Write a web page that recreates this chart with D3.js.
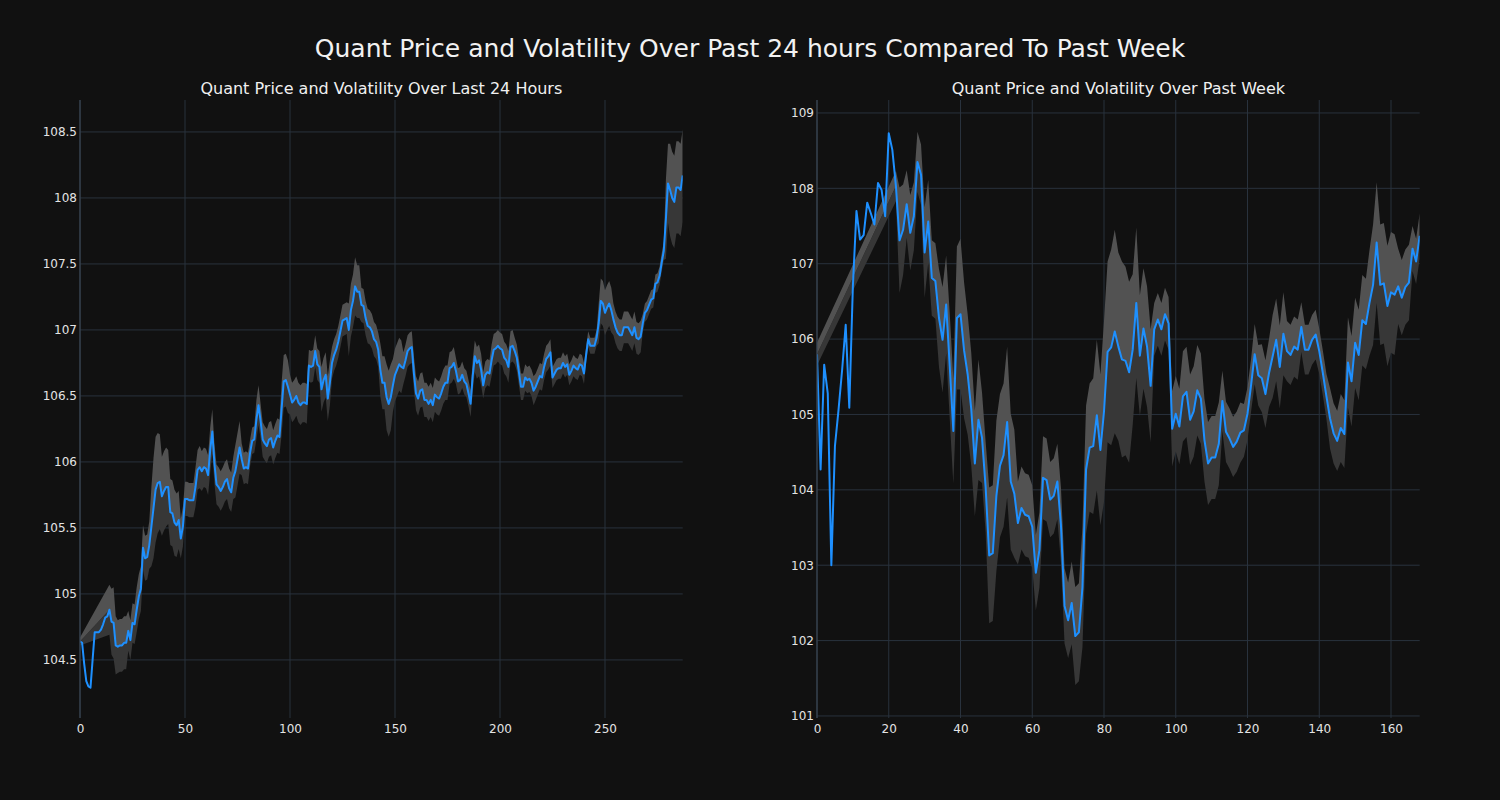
<!DOCTYPE html>
<html>
<head>
<meta charset="utf-8">
<script src="https://cdn.jsdelivr.net/npm/d3@7"></script>
<style>
  html, body { margin: 0; padding: 0; background: #111111; }
  svg { display: block; }
  text { font-family: "DejaVu Sans", sans-serif; }
</style>
</head>
<body>
<svg id="chart" width="1500" height="800"></svg>
<script>
// ---------- DATA ----------
const mainTitle = "Quant Price and Volatility Over Past 24 hours Compared To Past Week";
const dayTitle = "Quant Price and Volatility Over Last 24 Hours";
const weekTitle = "Quant Price and Volatility Over Past Week";

// 24h price (5-minute steps, 288 points)
const dayPrice = [
104.64,104.63,104.47,104.34,104.30,104.29,104.50,104.71,104.71,104.71,
104.73,104.77,104.82,104.83,104.88,104.79,104.78,104.61,104.60,104.61,
104.61,104.63,104.63,104.72,104.65,104.78,104.77,104.88,104.98,105.04,
105.35,105.27,105.28,105.37,105.51,105.65,105.79,105.84,105.85,105.74,
105.78,105.81,105.81,105.62,105.61,105.54,105.52,105.56,105.42,105.51,
105.72,105.72,105.71,105.71,105.71,105.81,105.94,105.96,105.93,105.96,
105.95,105.90,106.09,106.23,105.99,105.83,105.81,105.78,105.81,105.85,
105.87,105.80,105.77,105.88,105.93,106.02,106.11,106.02,105.95,105.96,
105.95,106.07,106.16,106.17,106.32,106.43,106.31,106.17,106.14,106.12,
106.17,106.18,106.11,106.16,106.20,106.19,106.40,106.61,106.62,106.57,
106.51,106.45,106.47,106.50,106.45,106.43,106.45,106.45,106.44,106.73,
106.72,106.73,106.84,106.74,106.72,106.55,106.62,106.66,106.48,106.60,
106.75,106.81,106.85,106.91,106.99,107.07,107.08,107.09,107.00,107.15,
107.22,107.33,107.29,107.29,107.19,107.18,107.09,107.03,107.02,106.99,
106.93,106.91,106.85,106.70,106.60,106.60,106.49,106.44,106.49,106.58,
106.66,106.70,106.74,106.72,106.71,106.77,106.84,106.86,106.87,106.67,
106.52,106.48,106.54,106.55,106.47,106.47,106.44,106.47,106.43,106.51,
106.49,106.48,106.52,106.57,106.60,106.60,106.71,106.72,106.75,106.69,
106.61,106.62,106.66,106.61,106.59,106.52,106.44,106.65,106.80,106.75,
106.77,106.70,106.58,106.66,106.68,106.67,106.77,106.85,106.86,106.88,
106.86,106.85,106.79,106.77,106.72,106.87,106.88,106.84,106.79,106.68,
106.57,106.57,106.64,106.62,106.63,106.60,106.54,106.57,106.61,106.65,
106.64,106.72,106.78,106.80,106.83,106.64,106.67,106.70,106.71,106.71,
106.75,106.72,106.74,106.66,106.69,106.73,106.71,106.70,106.74,106.73,
106.67,106.81,106.93,106.88,106.88,106.88,106.94,107.05,107.22,107.20,
107.13,107.17,107.20,107.15,107.08,107.02,106.98,106.96,106.96,107.02,
107.02,107.02,106.99,106.96,107.02,106.94,106.93,106.95,107.05,107.13,
107.15,107.19,107.23,107.24,107.35,107.36,107.41,107.51,107.60,107.84,
108.11,108.06,108.00,107.97,108.08,108.08,108.06,108.17
];

// 24h rolling volatility (band half-width), null where not yet defined
const dayVol = [
0.03,null,null,null,null,null,null,null,null,null,
null,null,null,null,0.19,0.25,0.27,0.22,0.20,0.20,
0.20,0.20,0.20,0.15,0.15,0.15,0.15,0.17,0.17,0.17,
0.17,0.17,0.17,0.18,0.30,0.38,0.40,0.38,0.36,0.30,
0.30,0.30,0.28,0.25,0.25,0.25,0.24,0.22,0.15,0.15,
0.13,0.13,0.13,0.13,0.13,0.15,0.15,0.16,0.15,0.15,
0.15,0.15,0.17,0.17,0.15,0.15,0.15,0.15,0.15,0.15,
0.15,0.15,0.15,0.16,0.20,0.20,0.20,0.12,0.12,0.12,
0.12,0.10,0.10,0.10,0.15,0.15,0.13,0.13,0.13,0.13,
0.13,0.13,0.13,0.13,0.13,0.13,0.20,0.20,0.20,0.20,
0.15,0.15,0.15,0.15,0.15,0.15,0.15,0.15,0.15,0.12,
0.12,0.12,0.12,0.12,0.12,0.17,0.17,0.17,0.17,0.17,
0.12,0.12,0.12,0.12,0.12,0.12,0.12,0.12,0.20,0.20,
0.20,0.22,0.20,0.20,0.13,0.13,0.13,0.13,0.13,0.13,
0.13,0.13,0.13,0.20,0.20,0.20,0.25,0.25,0.25,0.20,
0.20,0.20,0.20,0.20,0.12,0.12,0.12,0.12,0.12,0.13,
0.13,0.13,0.13,0.13,0.13,0.13,0.13,0.13,0.13,0.13,
0.13,0.13,0.13,0.13,0.13,0.13,0.12,0.12,0.12,0.10,
0.10,0.10,0.10,0.10,0.10,0.10,0.10,0.12,0.12,0.12,
0.12,0.12,0.10,0.10,0.10,0.10,0.12,0.12,0.12,0.12,
0.12,0.12,0.12,0.12,0.12,0.12,0.12,0.10,0.10,0.10,
0.10,0.10,0.10,0.10,0.10,0.10,0.11,0.10,0.10,0.10,
0.10,0.10,0.10,0.10,0.10,0.08,0.08,0.08,0.08,0.08,
0.08,0.08,0.08,0.08,0.08,0.08,0.08,0.08,0.08,0.08,
0.08,0.06,0.06,0.06,0.06,0.06,0.06,0.15,0.17,0.17,
0.17,0.17,0.17,0.17,0.12,0.12,0.12,0.12,0.12,0.12,
0.12,0.12,0.12,0.12,0.12,0.12,0.12,0.12,0.07,0.07,
0.07,0.07,0.07,0.07,0.07,0.07,0.07,0.07,0.07,0.30,
0.30,0.35,0.35,0.35,0.35,0.35,0.35,0.35
];

// week price (hourly, 169 points)
const weekPrice = [
105.80,104.27,105.66,105.28,103.00,104.58,105.06,105.59,106.19,105.09,
106.70,107.70,107.32,107.38,107.81,107.67,107.52,108.07,107.98,107.63,
108.73,108.51,108.03,107.31,107.45,107.79,107.41,107.63,108.35,108.18,
107.15,107.56,106.81,106.77,106.28,105.99,106.46,105.64,104.78,106.28,
106.33,105.85,105.53,105.07,104.35,104.93,104.69,104.04,103.13,103.16,
103.92,104.32,104.46,104.90,104.11,103.95,103.56,103.76,103.67,103.65,
103.51,102.90,103.20,104.16,104.13,103.87,103.92,104.11,103.53,102.46,
102.27,102.50,102.06,102.11,102.71,104.27,104.56,104.58,104.99,104.53,
105.04,105.83,105.89,106.10,105.90,105.73,105.71,105.56,105.86,106.48,
105.78,106.14,105.90,105.38,106.13,106.26,106.13,106.33,106.21,104.81,
105.01,104.84,105.24,105.30,104.93,105.04,105.32,105.21,104.66,104.35,
104.43,104.43,104.61,105.18,104.77,104.68,104.57,104.64,104.76,104.79,
105.01,105.39,105.80,105.52,105.48,105.27,105.55,105.77,105.99,105.63,
106.07,105.84,105.79,105.90,105.86,106.16,105.86,105.86,105.99,106.06,
105.84,105.55,105.24,104.95,104.75,104.65,104.82,104.74,105.69,105.44,
105.95,105.79,106.25,106.20,106.48,106.72,107.28,106.72,106.74,106.44,
106.62,106.59,106.70,106.55,106.69,106.75,107.20,107.03,107.37
];

// week rolling volatility (band half-width), null where not yet defined
const weekVol = [
0.15,null,null,null,null,null,null,null,null,null,
null,null,null,null,null,null,null,null,null,null,
null,null,0.20,0.70,0.60,0.45,0.50,0.45,0.40,0.40,
0.60,0.55,0.50,0.50,0.65,0.70,0.65,0.70,0.70,0.95,
1.00,0.90,0.80,0.75,0.70,0.80,0.60,0.60,0.90,0.90,
1.00,0.95,0.95,1.00,0.90,0.85,0.55,0.55,0.55,0.55,
0.55,0.50,0.50,0.55,0.55,0.50,0.50,0.50,0.50,0.50,
0.50,0.55,0.65,0.65,0.80,0.85,0.85,0.90,1.00,1.00,
1.20,1.20,1.30,1.35,1.25,1.30,1.25,1.20,1.00,1.00,
0.80,0.80,0.80,0.75,0.35,0.35,0.35,0.35,0.35,0.50,
0.50,0.50,0.60,0.60,0.60,0.60,0.60,0.60,0.55,0.55,
0.55,0.55,0.55,0.40,0.40,0.40,0.40,0.40,0.40,0.35,
0.35,0.35,0.40,0.40,0.45,0.45,0.45,0.55,0.55,0.55,
0.55,0.40,0.40,0.40,0.40,0.33,0.33,0.33,0.33,0.33,
0.30,0.30,0.30,0.40,0.40,0.40,0.45,0.45,0.60,0.60,
0.60,0.60,0.60,0.60,0.70,0.80,0.80,0.80,0.80,0.80,
0.80,0.80,0.50,0.50,0.50,0.50,0.30,0.30,0.30
];

const dayXTicks = [0, 50, 100, 150, 200, 250];
const dayYTicks = [104.5, 105, 105.5, 106, 106.5, 107, 107.5, 108, 108.5];
const dayYLabels = ["104.5","105","105.5","106","106.5","107","107.5","108","108.5"];
const weekXTicks = [0, 20, 40, 60, 80, 100, 120, 140, 160];
const weekYTicks = [101, 102, 103, 104, 105, 106, 107, 108, 109];
const weekYLabels = ["101","102","103","104","105","106","107","108","109"];

// ---------- DRAW ----------
const svg = d3.select("#chart");
svg.append("rect").attr("width", 1500).attr("height", 800).attr("fill", "#111111");

svg.append("text")
  .attr("x", 750).attr("y", 50)
  .attr("text-anchor", "middle").attr("dominant-baseline", "middle")
  .attr("fill", "#f2f2f2").attr("font-size", 25)
  .text(mainTitle);

const GRID = "#29323d", SPINE = "#3a4553", TICKTXT = "#e4e4e4";

function panel(opts) {
  const { id, x0, x1, y0, y1, xDomain, yDomain, price, vol, xTicks, yTicks, yLabels, title } = opts;
  const x = d3.scaleLinear().domain(xDomain).range([x0, x1]);
  const y = d3.scaleLinear().domain(yDomain).range([y1, y0]);
  const g = svg.append("g");

  g.append("defs").append("clipPath").attr("id", "clip" + id)
    .append("rect").attr("x", x0).attr("y", y0).attr("width", x1 - x0).attr("height", y1 - y0);

  // grid
  g.append("g").selectAll("line").data(yTicks).join("line")
    .attr("x1", x0).attr("x2", x1)
    .attr("y1", d => y(d)).attr("y2", d => y(d))
    .attr("stroke", GRID).attr("stroke-width", 1);
  g.append("g").selectAll("line").data(xTicks).join("line")
    .attr("y1", y0).attr("y2", y1)
    .attr("x1", d => x(d)).attr("x2", d => x(d))
    .attr("stroke", GRID).attr("stroke-width", 1);

  // data points
  const pts = price.map((p, i) => ({ i, p, v: vol[i] }));
  const band = pts.filter(d => d.v !== null);

  const plot = g.append("g").attr("clip-path", `url(#clip${id})`);

  const areaLow = d3.area().x(d => x(d.i)).y0(d => y(d.p - d.v)).y1(d => y(d.p));
  const areaHigh = d3.area().x(d => x(d.i)).y0(d => y(d.p)).y1(d => y(d.p + d.v));
  plot.append("path").datum(band).attr("d", areaLow).attr("fill", "#373737");
  plot.append("path").datum(band).attr("d", areaHigh).attr("fill", "#525252");

  const line = d3.line().x(d => x(d.i)).y(d => y(d.p));
  plot.append("path").datum(pts).attr("d", line)
    .attr("fill", "none").attr("stroke", "#1e90ff").attr("stroke-width", 2)
    .attr("stroke-linejoin", "round");

  // left spine
  g.append("line").attr("x1", x0).attr("x2", x0).attr("y1", y0).attr("y2", y1)
    .attr("stroke", SPINE).attr("stroke-width", 1.2);

  // axes
  const ax = g.append("g").attr("transform", `translate(0,${y1})`)
    .call(d3.axisBottom(x).tickValues(xTicks).tickSize(0).tickPadding(6).tickFormat(d3.format("d")));
  ax.select(".domain").remove();
  ax.selectAll("text").attr("fill", TICKTXT).attr("font-size", 12).attr("font-family", "DejaVu Sans");

  const ay = g.append("g").attr("transform", `translate(${x0},0)`)
    .call(d3.axisLeft(y).tickValues(yTicks).tickSize(0).tickPadding(3).tickFormat((d, i) => yLabels[i]));
  ay.select(".domain").remove();
  ay.selectAll("text").attr("fill", TICKTXT).attr("font-size", 12).attr("font-family", "DejaVu Sans");

  g.append("text")
    .attr("x", (x0 + x1) / 2).attr("y", 89)
    .attr("text-anchor", "middle").attr("dominant-baseline", "middle")
    .attr("fill", "#f0f0f0").attr("font-size", 16)
    .text(title);
}

panel({
  id: "day", x0: 80, x1: 682.7, y0: 100, y1: 718,
  xDomain: [0, 287], yDomain: [104.06, 108.742],
  price: dayPrice, vol: dayVol,
  xTicks: dayXTicks, yTicks: dayYTicks, yLabels: dayYLabels, title: dayTitle
});

panel({
  id: "week", x0: 817, x1: 1419.7, y0: 100, y1: 718,
  xDomain: [0, 168], yDomain: [100.973, 109.172],
  price: weekPrice, vol: weekVol,
  xTicks: weekXTicks, yTicks: weekYTicks, yLabels: weekYLabels, title: weekTitle
});
</script>
</body>
</html>
